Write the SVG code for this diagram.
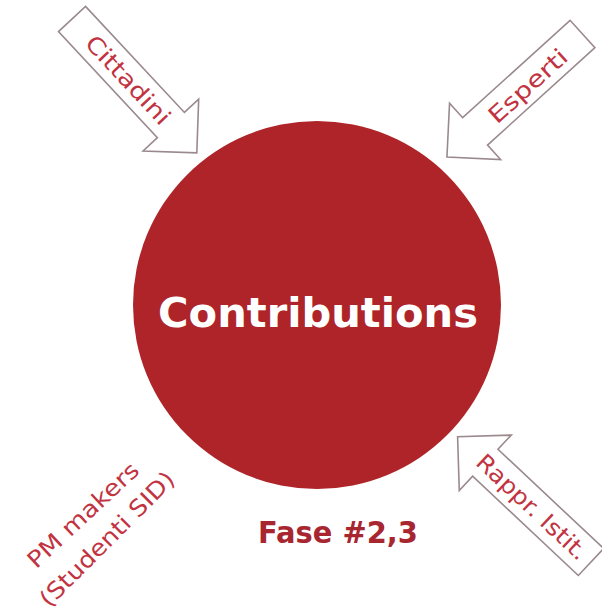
<svg xmlns="http://www.w3.org/2000/svg" width="602" height="613" viewBox="0 0 602 613">
<style>
.arrow{fill:#ffffff;stroke:#9a8a8d;stroke-width:1.6;stroke-linejoin:miter}
.lbl{font-family:"DejaVu Sans",sans-serif;font-size:23px;fill:#c23342;text-anchor:middle}
.main{font-family:"DejaVu Sans",sans-serif;font-weight:bold;font-size:41px;fill:#ffffff;text-anchor:middle}
.phase{font-family:"DejaVu Sans",sans-serif;font-weight:bold;font-size:30px;fill:#a8262f;text-anchor:middle}
</style>
<defs>
<polygon id="blk" points="0,-18.5 145,-18.5 145,-38 183,0 145,38 145,18.5 0,18.5"/>
</defs>
<rect width="602" height="613" fill="#ffffff"/>
<g id="connectors">
<g id="arrow-cittadini">
<use href="#blk" class="arrow" transform="translate(72,19) rotate(47)"/>
<text class="lbl" transform="translate(128,80) rotate(47)" y="8" textLength="113" lengthAdjust="spacingAndGlyphs">Cittadini</text>
</g>
<g id="arrow-esperti">
<use href="#blk" class="arrow" transform="translate(582.5,34) rotate(137.8)"/>
<text class="lbl" transform="translate(528,86) rotate(-42.2)" y="8" textLength="98" lengthAdjust="spacingAndGlyphs">Esperti</text>
</g>
<g id="arrow-rappr">
<use href="#blk" class="arrow" transform="translate(591,562) rotate(-136.8)"/>
<text class="lbl" transform="translate(532,507) rotate(43.2)" y="8" textLength="143" lengthAdjust="spacingAndGlyphs">Rappr. Istit.</text>
</g>
</g>
<g id="node-contributions">
<circle cx="317" cy="305" r="184" fill="#ae2428"/>
<text class="main" x="318" y="327" textLength="320" lengthAdjust="spacingAndGlyphs">Contributions</text>
</g>
<g id="node-pm">
<text class="lbl" transform="translate(83,515) rotate(-43)" y="8" textLength="143" lengthAdjust="spacingAndGlyphs">PM makers</text>
<text class="lbl" transform="translate(107,539) rotate(-45)" y="8" textLength="180" lengthAdjust="spacingAndGlyphs">(Studenti SID)</text>
</g>
<g id="node-fase">
<text class="phase" x="338" y="543" textLength="160" lengthAdjust="spacingAndGlyphs">Fase #2,3</text>
</g>
</svg>
